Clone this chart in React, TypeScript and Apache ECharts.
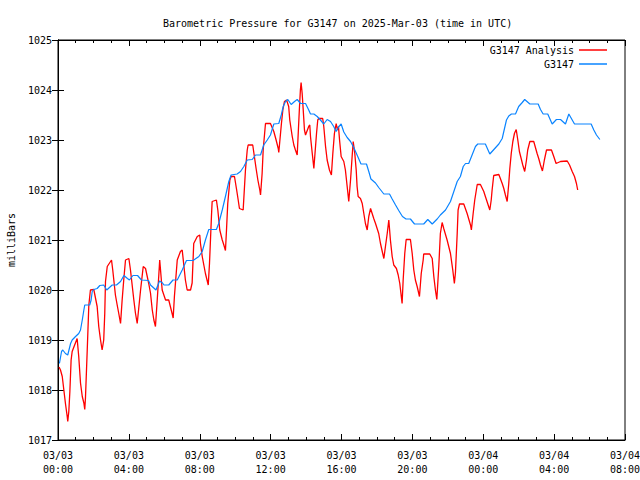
import React, { useEffect, useRef } from "react";
import * as echarts from "echarts";

const TITLE = "Barometric Pressure for G3147 on 2025-Mar-03 (time in UTC)";
const Y_NAME = "milliBars";
const SERIES_NAMES = ["G3147 Analysis", "G3147"];

// hours since 2025-03-03 00:00 UTC
const analysisHours = [
  0.06, 0.14, 0.24, 0.33, 0.42, 0.52, 0.55, 0.61, 0.67, 0.74, 0.8, 1.08, 1.17, 1.27, 1.37, 1.46, 1.51, 1.55, 1.65, 1.74,
  1.83, 2.02, 2.21, 2.3, 2.4, 2.49, 2.58, 2.64, 2.68, 2.78, 3.02, 3.09, 3.24, 3.34, 3.43, 3.53, 3.62, 3.71, 3.81, 4.0,
  4.09, 4.28, 4.37, 4.47, 4.66, 4.81, 4.94, 5.12, 5.22, 5.32, 5.41, 5.5, 5.6, 5.69, 5.74, 5.88, 6.07, 6.25, 6.44, 6.5,
  6.57, 6.73, 6.91, 7.01, 7.19, 7.29, 7.48, 7.57, 7.66, 7.86, 8.0, 8.04, 8.14, 8.32, 8.48, 8.55, 8.66, 8.7, 8.94, 9.02,
  9.13, 9.27, 9.36, 9.45, 9.51, 9.58, 9.7, 9.77, 9.96, 10.07, 10.17, 10.24, 10.45, 10.58, 10.68, 10.73, 10.99, 11.18,
  11.28, 11.39, 11.43, 11.52, 11.58, 11.71, 11.99, 12.18, 12.31, 12.43, 12.46, 12.61, 12.69, 12.78, 12.9, 13.02, 13.08,
  13.22, 13.31, 13.4, 13.5, 13.63, 13.68, 13.72, 13.78, 13.84, 13.91, 13.97, 14.15, 14.21, 14.25, 14.35, 14.44, 14.59,
  14.66, 14.72, 14.94, 15.0, 15.1, 15.19, 15.32, 15.43, 15.51, 15.6, 15.7, 15.77, 15.83, 15.89, 15.98, 16.13, 16.22,
  16.32, 16.41, 16.51, 16.6, 16.66, 16.75, 16.83, 16.88, 16.94, 17.07, 17.17, 17.26, 17.35, 17.45, 17.54, 17.64, 17.82,
  17.92, 18.01, 18.1, 18.2, 18.3, 18.39, 18.48, 18.58, 18.67, 18.76, 18.86, 18.95, 19.1, 19.2, 19.29, 19.42, 19.48,
  19.57, 19.65, 19.89, 19.99, 20.08, 20.17, 20.27, 20.4, 20.5, 20.61, 20.64, 20.98, 21.12, 21.21, 21.3, 21.38, 21.49,
  21.58, 21.68, 21.77, 21.96, 22.15, 22.28, 22.37, 22.43, 22.53, 22.58, 22.66, 22.9, 23.09, 23.28, 23.33, 23.43, 23.52,
  23.66, 23.84, 24.03, 24.12, 24.37, 24.45, 24.5, 24.59, 24.88, 25.07, 25.16, 25.25, 25.35, 25.44, 25.5, 25.58, 25.67,
  25.76, 25.86, 25.95, 26.04, 26.14, 26.23, 26.34, 26.44, 26.51, 26.63, 26.85, 27.04, 27.13, 27.23, 27.34, 27.45, 27.57,
  27.85, 27.98, 28.11, 28.36, 28.74, 28.87, 29.02, 29.15, 29.26, 29.33,
];
const analysisValues = [
  1018.46, 1018.4, 1018.27, 1018.0, 1017.73, 1017.47, 1017.37, 1017.57, 1017.97, 1018.6, 1018.77, 1019.03, 1018.67,
  1018.14, 1017.87, 1017.74, 1017.61, 1017.84, 1018.8, 1019.7, 1020.0, 1020.01, 1019.67, 1019.27, 1019.0, 1018.8, 1019.0,
  1019.54, 1020.17, 1020.47, 1020.6, 1020.4, 1019.9, 1019.7, 1019.53, 1019.33, 1019.8, 1020.2, 1020.6, 1020.63, 1020.4,
  1019.8, 1019.54, 1019.33, 1020.0, 1020.47, 1020.43, 1020.13, 1019.94, 1019.6, 1019.4, 1019.27, 1019.8, 1020.3, 1020.6,
  1020.0, 1019.8, 1019.8, 1019.53, 1019.44, 1019.87, 1020.6, 1020.77, 1020.8, 1020.2, 1020.0, 1020.0, 1020.14, 1020.93,
  1021.07, 1021.1, 1020.93, 1020.67, 1020.33, 1020.1, 1020.53, 1021.47, 1021.77, 1021.8, 1021.6, 1021.2, 1021.0, 1020.9,
  1020.79, 1021.2, 1021.73, 1022.2, 1022.27, 1022.27, 1022.03, 1021.8, 1021.63, 1021.6, 1022.4, 1022.8, 1022.9, 1022.9,
  1022.43, 1022.2, 1022.0, 1021.9, 1022.33, 1022.8, 1023.33, 1023.33, 1023.17, 1023.0, 1022.83, 1022.75, 1023.33, 1023.6,
  1023.77, 1023.8, 1023.67, 1023.4, 1023.07, 1022.9, 1022.8, 1022.7, 1023.67, 1024.0, 1024.15, 1023.93, 1023.6, 1023.2,
  1023.1, 1023.27, 1023.3, 1023.07, 1022.73, 1022.43, 1023.13, 1023.4, 1023.43, 1023.43, 1023.27, 1022.87, 1022.6,
  1022.4, 1022.3, 1022.73, 1023.13, 1023.33, 1023.2, 1023.27, 1023.0, 1022.67, 1022.57, 1022.4, 1022.07, 1021.77, 1022.2,
  1022.67, 1022.97, 1022.73, 1022.4, 1022.07, 1021.87, 1021.83, 1021.73, 1021.53, 1021.33, 1021.2, 1021.47, 1021.63,
  1021.43, 1021.33, 1021.23, 1021.13, 1020.93, 1020.77, 1020.63, 1020.87, 1021.13, 1021.4, 1021.0, 1020.67, 1020.5,
  1020.43, 1020.3, 1020.13, 1019.73, 1020.2, 1020.73, 1021.01, 1021.01, 1020.73, 1020.4, 1020.2, 1020.07, 1019.87,
  1020.33, 1020.6, 1020.72, 1020.72, 1020.63, 1020.27, 1020.0, 1019.81, 1020.47, 1021.13, 1021.35, 1021.23, 1021.0,
  1020.73, 1020.4, 1020.13, 1020.34, 1021.13, 1021.6, 1021.72, 1021.72, 1021.53, 1021.3, 1021.2, 1021.53, 1021.8,
  1022.11, 1022.11, 1021.97, 1021.87, 1021.6, 1021.8, 1022.0, 1022.29, 1022.31, 1022.13, 1022.03, 1021.9, 1021.77,
  1022.13, 1022.43, 1022.73, 1022.97, 1023.13, 1023.21, 1023.0, 1022.77, 1022.63, 1022.5, 1022.37, 1022.6, 1022.8,
  1022.97, 1022.97, 1022.73, 1022.63, 1022.5, 1022.38, 1022.6, 1022.8, 1022.8, 1022.67, 1022.53, 1022.57, 1022.58,
  1022.5, 1022.37, 1022.27, 1022.13, 1022.0,
];

const stationHours = [
  0.08, 0.2, 0.27, 0.42, 0.55, 0.71, 0.8, 0.99, 1.17, 1.27, 1.37, 1.46, 1.51, 1.79, 1.87, 1.93, 2.02, 2.21, 2.36, 2.58,
  2.75, 3.06, 3.3, 3.53, 3.72, 3.92, 4.03, 4.23, 4.49, 4.71, 5.11, 5.22, 5.53, 5.73, 5.9, 5.98, 6.25, 6.49, 6.73, 7.01,
  7.25, 7.62, 7.95, 8.14, 8.32, 8.51, 8.94, 9.07, 9.27, 9.45, 9.64, 9.77, 10.11, 10.3, 10.49, 10.68, 10.96, 11.15, 11.43,
  11.61, 11.81, 11.99, 12.18, 12.46, 12.6, 12.71, 12.84, 12.97, 13.16, 13.35, 13.5, 13.69, 13.97, 14.15, 14.25, 14.44,
  14.63, 14.81, 15.0, 15.19, 15.38, 15.56, 15.7, 15.83, 15.98, 16.13, 16.32, 16.51, 16.69, 16.88, 17.1, 17.41, 17.54,
  17.66, 17.92, 18.1, 18.39, 18.71, 18.86, 19.05, 19.23, 19.44, 19.64, 19.89, 20.12, 20.64, 20.87, 21.12, 21.4, 21.58,
  21.87, 22.15, 22.34, 22.53, 22.71, 22.87, 23.0, 23.18, 23.37, 23.56, 23.69, 24.12, 24.37, 24.6, 24.88, 25.07, 25.16,
  25.31, 25.44, 25.59, 25.82, 26.0, 26.2, 26.34, 26.63, 27.1, 27.23, 27.38, 27.64, 27.89, 28.13, 28.36, 28.64, 28.83,
  29.15, 30.09, 30.24, 30.39, 30.58,
];
const stationValues = [
  1018.53, 1018.77, 1018.8, 1018.73, 1018.7, 1018.93, 1019.0, 1019.07, 1019.13, 1019.2, 1019.4, 1019.6, 1019.7, 1019.7,
  1019.8, 1019.97, 1020.01, 1020.03, 1020.09, 1020.1, 1020.0, 1020.1, 1020.1, 1020.17, 1020.29, 1020.23, 1020.2, 1020.29,
  1020.29, 1020.2, 1020.19, 1020.1, 1020.0, 1020.18, 1020.14, 1020.1, 1020.1, 1020.2, 1020.2, 1020.4, 1020.59, 1020.59,
  1020.67, 1020.77, 1021.0, 1021.21, 1021.21, 1021.33, 1021.6, 1021.87, 1022.17, 1022.3, 1022.32, 1022.37, 1022.47,
  1022.6, 1022.61, 1022.7, 1022.7, 1022.9, 1023.0, 1023.1, 1023.32, 1023.33, 1023.5, 1023.67, 1023.77, 1023.81, 1023.71,
  1023.77, 1023.81, 1023.73, 1023.73, 1023.6, 1023.52, 1023.52, 1023.47, 1023.4, 1023.32, 1023.41, 1023.37, 1023.27,
  1023.17, 1023.26, 1023.32, 1023.16, 1023.05, 1022.97, 1022.85, 1022.7, 1022.52, 1022.52, 1022.37, 1022.22, 1022.14,
  1022.05, 1021.92, 1021.92, 1021.82, 1021.7, 1021.59, 1021.47, 1021.42, 1021.42, 1021.32, 1021.32, 1021.41, 1021.32,
  1021.42, 1021.5, 1021.6, 1021.77, 1021.97, 1022.17, 1022.27, 1022.47, 1022.53, 1022.53, 1022.7, 1022.87, 1022.92,
  1022.92, 1022.72, 1022.81, 1022.92, 1023.03, 1023.17, 1023.4, 1023.48, 1023.52, 1023.52, 1023.67, 1023.75, 1023.81,
  1023.72, 1023.72, 1023.61, 1023.52, 1023.52, 1023.32, 1023.41, 1023.41, 1023.32, 1023.52, 1023.32, 1023.32, 1023.2,
  1023.1, 1023.01,
];

const X_MIN = 0;
const X_MAX = 32;
const X_STEP = 4;
const Y_MIN = 1017;
const Y_MAX = 1025;

const FONT = "'DejaVu Sans Mono', 'Liberation Mono', monospace";

function fmtTime(v: number): string {
  const day = v >= 24 ? "03/04" : "03/03";
  const hh = Math.round(v) % 24;
  return day + "\n" + String(hh).padStart(2, "0") + ":00";
}

export default function App() {
  const ref = useRef<HTMLDivElement>(null);
  useEffect(() => {
    if (!ref.current) return;
    const chart = echarts.init(ref.current, null, { renderer: "svg" });
    const redData = analysisHours.map((h, i) => [h, analysisValues[i]]);
    const blueData = stationHours.map((h, i) => [h, stationValues[i]]);
    const tickCommon = {
      show: true,
      inside: true,
      length: 6,
      lineStyle: { color: "#000", width: 1 },
    };
    chart.setOption({
      animation: false,
      backgroundColor: "#fff",
      textStyle: { fontFamily: FONT, color: "#000" },
      title: {
        text: TITLE,
        left: 158,
        top: 13,
        textStyle: { fontFamily: FONT, fontSize: 10, fontWeight: "normal", color: "#000" },
      },
      legend: [
        {
          data: [SERIES_NAMES[0]],
          right: 28,
          top: 40,
          align: "right",
          itemWidth: 28,
          itemHeight: 1.5,
          itemGap: 0,
          icon: "rect",
          textStyle: { fontFamily: FONT, fontSize: 10, color: "#000" },
        },
        {
          data: [SERIES_NAMES[1]],
          right: 28,
          top: 54,
          align: "right",
          itemWidth: 28,
          itemHeight: 1.5,
          itemGap: 0,
          icon: "rect",
          textStyle: { fontFamily: FONT, fontSize: 10, color: "#000" },
        },
      ],
      grid: {
        left: 58,
        right: 15,
        top: 40,
        bottom: 40,
        containLabel: false,
        outerBoundsMode: "none",
        show: true,
        borderColor: "#000",
        borderWidth: 1,
        backgroundColor: "transparent",
      },
      xAxis: [
        {
          type: "value",
          min: X_MIN,
          max: X_MAX,
          interval: X_STEP,
          axisLine: { show: true, lineStyle: { color: "#000" } },
          axisTick: tickCommon,
          minorTick: { show: true, splitNumber: 4, length: 3, lineStyle: { color: "#000" } },
          splitLine: { show: false },
          axisLabel: {
            formatter: fmtTime,
            fontFamily: FONT,
            fontSize: 10,
            color: "#000",
            margin: 8,
            lineHeight: 14,
          },
        },
        {
          type: "value",
          position: "top",
          min: X_MIN,
          max: X_MAX,
          interval: X_STEP,
          axisLine: { show: true, lineStyle: { color: "#000" } },
          axisTick: tickCommon,
          minorTick: { show: true, splitNumber: 4, length: 3, lineStyle: { color: "#000" } },
          splitLine: { show: false },
          axisLabel: { show: false },
        },
      ],
      yAxis: [
        {
          type: "value",
          min: Y_MIN,
          max: Y_MAX,
          interval: 1,
          name: Y_NAME,
          nameLocation: "middle",
          nameRotate: 90,
          nameGap: 42,
          nameTextStyle: { fontFamily: FONT, fontSize: 10, color: "#000" },
          axisLine: { show: true, lineStyle: { color: "#000" } },
          axisTick: tickCommon,
          splitLine: { show: false },
          axisLabel: {
            fontFamily: FONT,
            fontSize: 10,
            color: "#000",
            margin: 6,
            formatter: (v: number) => String(v),
          },
        },
        {
          type: "value",
          position: "right",
          min: Y_MIN,
          max: Y_MAX,
          interval: 1,
          axisLine: { show: true, lineStyle: { color: "#000" } },
          axisTick: tickCommon,
          splitLine: { show: false },
          axisLabel: { show: false },
        },
      ],
      series: [
        {
          name: SERIES_NAMES[0],
          type: "line",
          data: redData,
          showSymbol: false,
          symbol: "none",
          color: "#ff0000",
          lineStyle: { color: "#ff0000", width: 1.3 },
          xAxisIndex: 0,
          yAxisIndex: 0,
        },
        {
          name: SERIES_NAMES[1],
          type: "line",
          data: blueData,
          showSymbol: false,
          symbol: "none",
          color: "#0a84ff",
          lineStyle: { color: "#0a84ff", width: 1.2 },
          xAxisIndex: 0,
          yAxisIndex: 0,
        },
      ],
    });
    return () => chart.dispose();
  }, []);
  return (
    <div
      ref={ref}
      style={{ position: "fixed", left: 0, top: 0, width: 640, height: 480, background: "#fff" }}
    />
  );
}
